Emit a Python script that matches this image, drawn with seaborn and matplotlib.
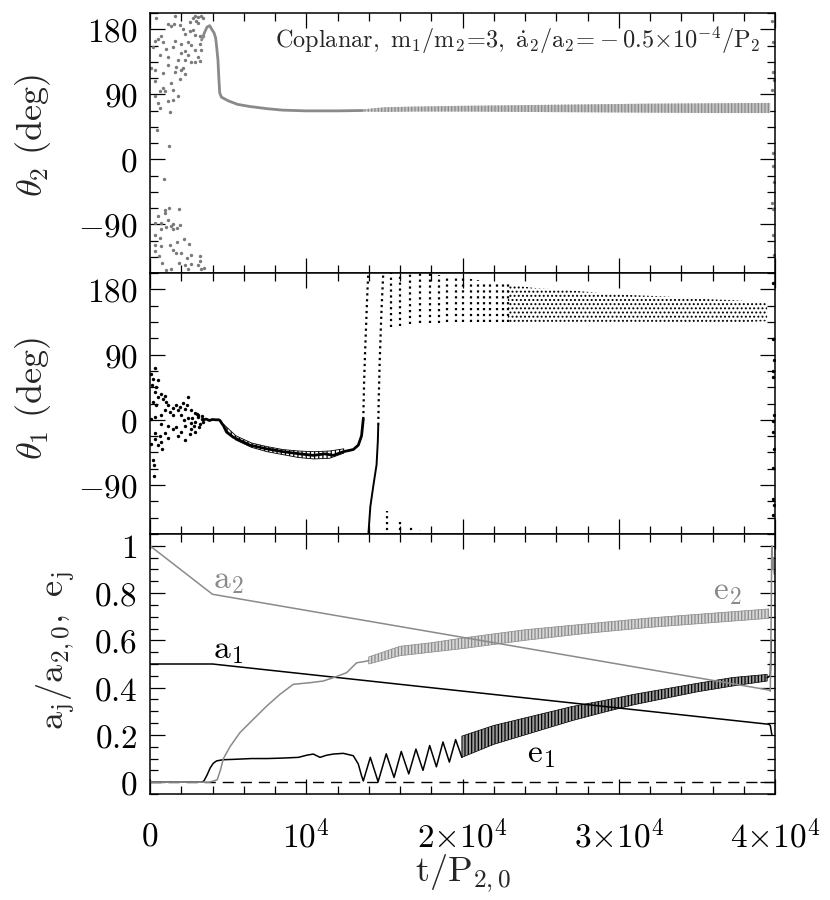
import numpy as np
import matplotlib
matplotlib.use("Agg")
import matplotlib.pyplot as plt
from matplotlib.ticker import MultipleLocator, FixedLocator, FixedFormatter
import seaborn as sns

GRAY = '#8a8a8a'

# ---------------- theta_2 panel ----------------
# early chaotic scatter (t, deg)
th2_scat_t = [405, 1579, 1536, 1152, 1365, 1899, 2859, 3072, 3285, 2752, 2965, 2539, 3072, 3392,
              2112, 2539, 2261, 2752, 2859, 3179, 3392, 725, 512, 832, 299, 1579, 2005, 2432,
              192, 1045, 1472, 2219, 2645, 3179, 2859, 3285, 619, 1152, 2005, 2432, 3072, 2645,
              2859, 3179, 2261, 1792, 85, 299, 832, 1579, 2219, 1152, 1685, 2112, 2005, 299,
              1365, 1899, 832, 1472, 619, 939, 1792, 299, 1472, 1152, 512, 619, 1259, 450,
              1200, 880,
              1195, 981, 1856, 939, 1152, 512, 299, 725, 1472, 1899, 1323, 1024, 725, 1451,
              1749, 299, 619, 2176, 1749, 341, 683, 1259, 2475, 1472, 299, 2005, 1685, 2645,
              3179, 2389, 555, 1835, 3179, 2603, 3072, 768, 2219, 1365, 2432, 3285, 3434, 1045,
              39800, 39900, 39850, 39950, 39800, 39900, 39850, 39950, 39800, 39900, 39850, 39950]
th2_scat_v = [195, 198, 187, 187, 184, 186, 199, 197, 199, 195, 192, 190, 189, 195,
              181, 178, 173, 179, 172, 170, 170, 170, 167, 163, 164, 164, 160, 163,
              156, 152, 155, 150, 158, 160, 151, 151, 144, 142, 147, 144, 141, 135,
              134, 136, 137, 137, 126, 124, 119, 121, 118, 131, 128, 127, 123, 108,
              105, 111, 98, 96, 94, 94, 87, 87, 82, 80, 78, 71, 65, 40,
              18, -28,
              -67, -70, -69, -75, -84, -79, -88, -88, -90, -91, -93, -94, -96, -97,
              -95, -105, -109, -111, -114, -119, -120, -119, -118, -125, -127, -130, -130, -133,
              -134, -137, -134, -143, -141, -145, -147, -144, -147, -152, -152, -152, -150, -153,
              192, 163, 121, 110, 96, 9, -9, -32, -60, -69, -105, -133]
# settling trajectory
th2_line_t = [3300, 3500, 3650, 3820, 3950, 4100, 4200, 4245, 4300, 4350, 4400, 4460, 4570,
              5000, 5600, 6400, 7500, 8500, 10000, 12000, 13600]
th2_line_v = [165, 176, 183, 185, 180, 175, 168, 160, 148, 137, 115, 92, 86,
              81, 76, 73, 70, 68, 67, 67, 67.5]
# oscillation envelope
th2_band_t = [13600, 15000, 17000, 20000, 24000, 28000, 32000, 36000, 39700]
th2_band_hi = [69, 72, 73, 74, 75, 76, 77, 77.5, 78]
th2_band_lo = [66, 65.5, 66, 66, 65.5, 65, 64.5, 64, 64]

# ---------------- theta_1 panel ----------------
th1_scat_t = [341, 85, 192, 512, 128, 405, 299, 683, 939, 512, 832, 1045, 192, 405, 1152, 1685,
              2432, 2112, 1899, 2219, 1472, 939, 1259, 1792, 2645, 2389, 2859, 3072, 2005, 1472,
              725, 299, 85, 725, 1152, 1685, 2219, 2645, 1472, 2005, 939, 299, 619, 1792, 2539,
              2859, 1152, 299, 725, 85, 512, 2261, 200, 260, 250, 750,
              2700, 2900, 3100, 3200, 3300, 3000, 3400, 2800, 3150, 2600, 2400, 2200, 3350,
              39850, 39900, 39950, 39850, 39900, 39950, 39850, 39900, 39950, 39850, 39900, 39950, 39850]
th1_scat_v = [71, 63, 56, 55, 48, 45, 39, 36, 33, 31, 29, 24, 24, 20, 20, 21,
              31, 23, 17, 15, 16, 14, 11, 13, 13, 20, 10, 6, 6, 6,
              6, 4, 1, -5.5, -8, -10, -9, -12, -13, -17, -18, -18, -22, -22, -19,
              -17, -25, -26, -31, -33, -35, -28, -56, -62, -78, -40,
              2, -3, 4, -6, 1, 8, -3, -8, -10, -4, 3, 0, 5,
              189, 111, 82, 68, 59, 6, -1, -17, -40, -67, -109, -118, -131]
th1_line_t = [3400, 3600, 3800, 4000, 4200, 4400, 4480, 4600, 4700, 4900, 5330, 6400, 7470,
              8530, 9600, 10450, 11200, 11730, 12370, 13010, 13330, 13540, 13650]
th1_line_v = [0, 1, -1, 0.5, 0, 0, -1, -5, -8, -17, -24, -35, -40,
              -44, -47, -49, -47, -49, -44, -41, -35, -22, 1]
th1_wig_t = [4700, 5500, 6500, 7500, 8500, 9500, 10500, 11500, 12400]
th1_wig_hi = [-6, -22, -32, -37, -41, -43, -44, -43, -40]
th1_wig_lo = [-10, -28, -38, -44, -48, -52, -54, -53, -46]
# wrap-around strands
strandA_t = [13650, 13700, 13760, 13830, 13900, 13970]
strandA_v = [1, 50, 90, 130, 170, 203]
strandB_lo_t = [13970, 14100, 14300, 14500, 14580, 14610]
strandB_lo_v = [-160, -120, -90, -62, -30, -7]
strandB_hi_t = [14610, 14640, 14700, 14780, 14830, 14930]
strandB_hi_v = [-7, 30, 80, 130, 158, 203]
col_t = [15400, 16000, 16640, 17280, 17920, 18520, 19030, 19580, 20050, 20520, 21010,
         21380, 21760, 22190, 22570, 22930]
col_top = [203, 203, 203, 203, 202, 200, 198, 196, 195, 194, 193, 191, 190, 189, 188, 187]
col_bot = [128, 130, 132, 133, 134, 134, 135, 135, 135, 135, 135, 135, 135, 135, 135, 135]
arch_t = [15150, 16000, 16700, 17280]
arch_top = [-126, -138, -147, -152]
th1_band_t = [22900, 24500, 26700, 28800, 30900, 33100, 35200, 37300, 39500]
th1_band_hi = [187, 182, 179, 175, 172, 170, 167, 165, 162]
th1_band_lo = [134, 135, 135, 135, 135, 135, 134, 134, 136]

# ---------------- a_j, e_j panel ----------------
a2_t = [0, 4000, 39600, 39700, 39760, 39790, 39840, 39890, 39950]
a2_v = [1.0, 0.795, 0.39, 0.385, 0.72, 1.0, 0.9, 0.95, 0.88]
a1_t = [0, 4000, 39600, 39700, 39800]
a1_v = [0.5, 0.5, 0.245, 0.24, 0.2]
e2_t = [0, 3800, 4300, 4500, 4700, 5120, 5760, 6610, 7470, 8320, 9170, 10240, 11090,
        11730, 12580, 13220, 13860, 14000]
e2_v = [0, 0, 0.01, 0.05, 0.1, 0.15, 0.21, 0.266, 0.322, 0.372, 0.414, 0.421, 0.428,
        0.442, 0.463, 0.505, 0.512, 0.515]
e2_band_t = [14000, 16000, 18000, 20000, 24000, 28000, 32000, 36000, 39600]
e2_band_hi = [0.53, 0.575, 0.59, 0.61, 0.645, 0.67, 0.695, 0.715, 0.733]
e2_band_lo = [0.50, 0.535, 0.55, 0.565, 0.60, 0.63, 0.655, 0.675, 0.693]
e1_t = [0, 3300, 3450, 3650, 3850, 4050, 4260, 4500, 4700, 5500, 6500, 7500, 8500, 9500,
        10020, 10450, 10880, 11300, 11730, 12370, 13010, 13330, 13540, 13650, 14100, 14600,
        15120, 15620, 16080, 16560, 17020, 17470, 17900, 18330, 18750, 19160, 19560, 19960]
e1_v = [0, 0, 0.005, 0.03, 0.06, 0.08, 0.09, 0.093, 0.095, 0.097, 0.1, 0.1, 0.102, 0.105,
        0.114, 0.119, 0.105, 0.114, 0.119, 0.122, 0.112, 0.077, 0.027, 0.005, 0.105, 0.002,
        0.12, 0.02, 0.13, 0.035, 0.14, 0.05, 0.155, 0.065, 0.17, 0.085, 0.18, 0.105]
e1_band_t = [19960, 22000, 24500, 27000, 29000, 31000, 33000, 35000, 37300, 39500]
e1_band_hi = [0.195, 0.24, 0.28, 0.32, 0.345, 0.372, 0.395, 0.418, 0.443, 0.456]
e1_band_lo = [0.105, 0.16, 0.21, 0.26, 0.295, 0.328, 0.355, 0.382, 0.407, 0.428]
e1_end_t = [39500, 39700, 39760, 39850]
e1_end_v = [0.442, 0.45, 0.6, 0.6]

x_ticks = [0, 10000, 20000, 30000, 40000]
x_labels = [r'$0$', r'$10^4$', r'$2{\times}10^4$', r'$3{\times}10^4$', r'$4{\times}10^4$']
th_ticks = [-90, 0, 90, 180]
th_labels = [r'$-90$', r'$0$', r'$90$', r'$180$']
ae_ticks = [0, 0.2, 0.4, 0.6, 0.8, 1.0]
ae_labels = [r'$0$', r'$0.2$', r'$0.4$', r'$0.6$', r'$0.8$', r'$1$']

sns.set_theme(style='ticks')
plt.rcParams['mathtext.fontset'] = 'cm'
plt.rcParams['font.family'] = ['DejaVu Serif']
plt.rcParams['axes.linewidth'] = 1.0
plt.rcParams['hatch.linewidth'] = 0.9

fig = plt.figure(figsize=(8.3, 9), dpi=100)
W = 625 / 830
ax_top = fig.add_axes([150 / 830, 627 / 900, W, 260 / 900])
ax_mid = fig.add_axes([150 / 830, 366 / 900, W, 261 / 900])
ax_bot = fig.add_axes([150 / 830, 106 / 900, W, 260 / 900])


def style_axis(ax):
    ax.set_xlim(0, 40000)
    ax.xaxis.set_major_locator(FixedLocator(x_ticks))
    ax.xaxis.set_minor_locator(MultipleLocator(2000))
    ax.tick_params(which='both', direction='in', top=True, right=True,
                   colors='black', labelsize=24, width=0.9)
    ax.tick_params(which='major', length=11, pad=9)
    ax.tick_params(which='minor', length=5.5)
    for s in ax.spines.values():
        s.set_color('black')
        s.set_linewidth(1.1)


# ---- top: theta_2 ----
ax = ax_top
sns.scatterplot(x=th2_scat_t, y=th2_scat_v, ax=ax, color='#7a7a7a', s=6, marker='o',
                linewidth=0)
sns.lineplot(x=th2_line_t, y=th2_line_v, ax=ax, color=GRAY, lw=2.0,
             estimator=None, sort=False)
ax.fill_between(th2_band_t, th2_band_lo, th2_band_hi, facecolor='#c4c4c4', edgecolor=GRAY,
                hatch='|||||', lw=0)
ax.set_ylim(-157.5, 202.5)
style_axis(ax)
ax.yaxis.set_major_locator(FixedLocator(th_ticks))
ax.yaxis.set_major_formatter(FixedFormatter(th_labels))
ax.yaxis.set_minor_locator(MultipleLocator(22.5))
ax.set_xticklabels([])
ax.set_ylabel(r'$\theta_2\ \mathrm{(deg)}$', fontsize=26)
ax.yaxis.set_label_coords(-0.155, 0.53)
ax.text(0.977, 0.895,
        r'$\mathrm{Coplanar,\ m_1/m_2\!=\!3,\ \dot{a}_2/a_2\!=\!-0.5{\times}10^{-4}/P_2}$',
        transform=ax.transAxes, ha='right', va='center', fontsize=17.5)

# ---- middle: theta_1 ----
ax = ax_mid
sns.scatterplot(x=th1_scat_t, y=th1_scat_v, ax=ax, color='black', s=6, marker='o',
                linewidth=0)
sns.lineplot(x=th1_line_t, y=th1_line_v, ax=ax, color='black', lw=2.0,
             estimator=None, sort=False)
ax.fill_between(th1_wig_t, th1_wig_lo, th1_wig_hi, facecolor='none', edgecolor='black',
                hatch='||||', lw=0.6)
sns.lineplot(x=strandA_t, y=strandA_v, ax=ax, color='black', lw=1.6, ls=':',
             estimator=None, sort=False)
sns.lineplot(x=strandB_lo_t, y=strandB_lo_v, ax=ax, color='black', lw=1.4,
             estimator=None, sort=False)
sns.lineplot(x=strandB_hi_t, y=strandB_hi_v, ax=ax, color='black', lw=1.6, ls=':',
             estimator=None, sort=False)
ax.vlines(col_t, col_bot, col_top, colors='black', lw=1.6, linestyles=':')
ax.vlines(arch_t, -160, arch_top, colors='black', lw=1.6, linestyles=':')
ax.fill_between(th1_band_t, th1_band_lo, th1_band_hi, facecolor='none', edgecolor='black',
                hatch='....', lw=0)
ax.set_ylim(-157.5, 202.5)
style_axis(ax)
ax.yaxis.set_major_locator(FixedLocator(th_ticks))
ax.yaxis.set_major_formatter(FixedFormatter(th_labels))
ax.yaxis.set_minor_locator(MultipleLocator(22.5))
ax.set_xticklabels([])
ax.set_ylabel(r'$\theta_1\ \mathrm{(deg)}$', fontsize=26)
ax.yaxis.set_label_coords(-0.155, 0.52)

# ---- bottom: a_j, e_j ----
ax = ax_bot
ax.axhline(0, color='black', lw=1.0, ls=(0, (8, 5)))
sns.lineplot(x=a1_t, y=a1_v, ax=ax, color='black', lw=1.1, estimator=None, sort=False)
sns.lineplot(x=e1_t, y=e1_v, ax=ax, color='black', lw=1.1, estimator=None, sort=False)
ax.fill_between(e1_band_t, e1_band_lo, e1_band_hi, facecolor='#9a9a9a', edgecolor='black',
                hatch='|||||', lw=0.5)
sns.lineplot(x=e1_end_t, y=e1_end_v, ax=ax, color='black', lw=1.1, estimator=None, sort=False)
sns.lineplot(x=a2_t, y=a2_v, ax=ax, color=GRAY, lw=1.1, estimator=None, sort=False)
sns.lineplot(x=e2_t, y=e2_v, ax=ax, color=GRAY, lw=1.1, estimator=None, sort=False)
ax.fill_between(e2_band_t, e2_band_lo, e2_band_hi, facecolor='#d6d6d6', edgecolor=GRAY,
                hatch='|||||', lw=0.5)
ax.set_ylim(-0.05, 1.05)
style_axis(ax)
ax.yaxis.set_major_locator(FixedLocator(ae_ticks))
ax.yaxis.set_major_formatter(FixedFormatter(ae_labels))
ax.yaxis.set_minor_locator(MultipleLocator(0.05))
ax.xaxis.set_major_formatter(FixedFormatter(x_labels))
ax.tick_params(axis='x', which='major', pad=19)
ax.set_ylabel(r'$\mathrm{a_j/a_{2,0},\ e_j}$', fontsize=26)
ax.yaxis.set_label_coords(-0.117, 0.55)
ax.set_xlabel(r'$\mathrm{t/P_{2,0}}$', fontsize=26)
ax.xaxis.set_label_coords(0.5, -0.225)

ax.text(4030, 0.857, r'$\mathrm{a_2}$', color=GRAY, fontsize=24, ha='left', va='center')
ax.text(4030, 0.56, r'$\mathrm{a_1}$', color='black', fontsize=24, ha='left', va='center')
ax.text(36030, 0.81, r'$\mathrm{e_2}$', color=GRAY, fontsize=24, ha='left', va='center')
ax.text(24130, 0.118, r'$\mathrm{e_1}$', color='black', fontsize=24, ha='left', va='center')

fig.savefig('out.png', dpi=100, facecolor='white')
